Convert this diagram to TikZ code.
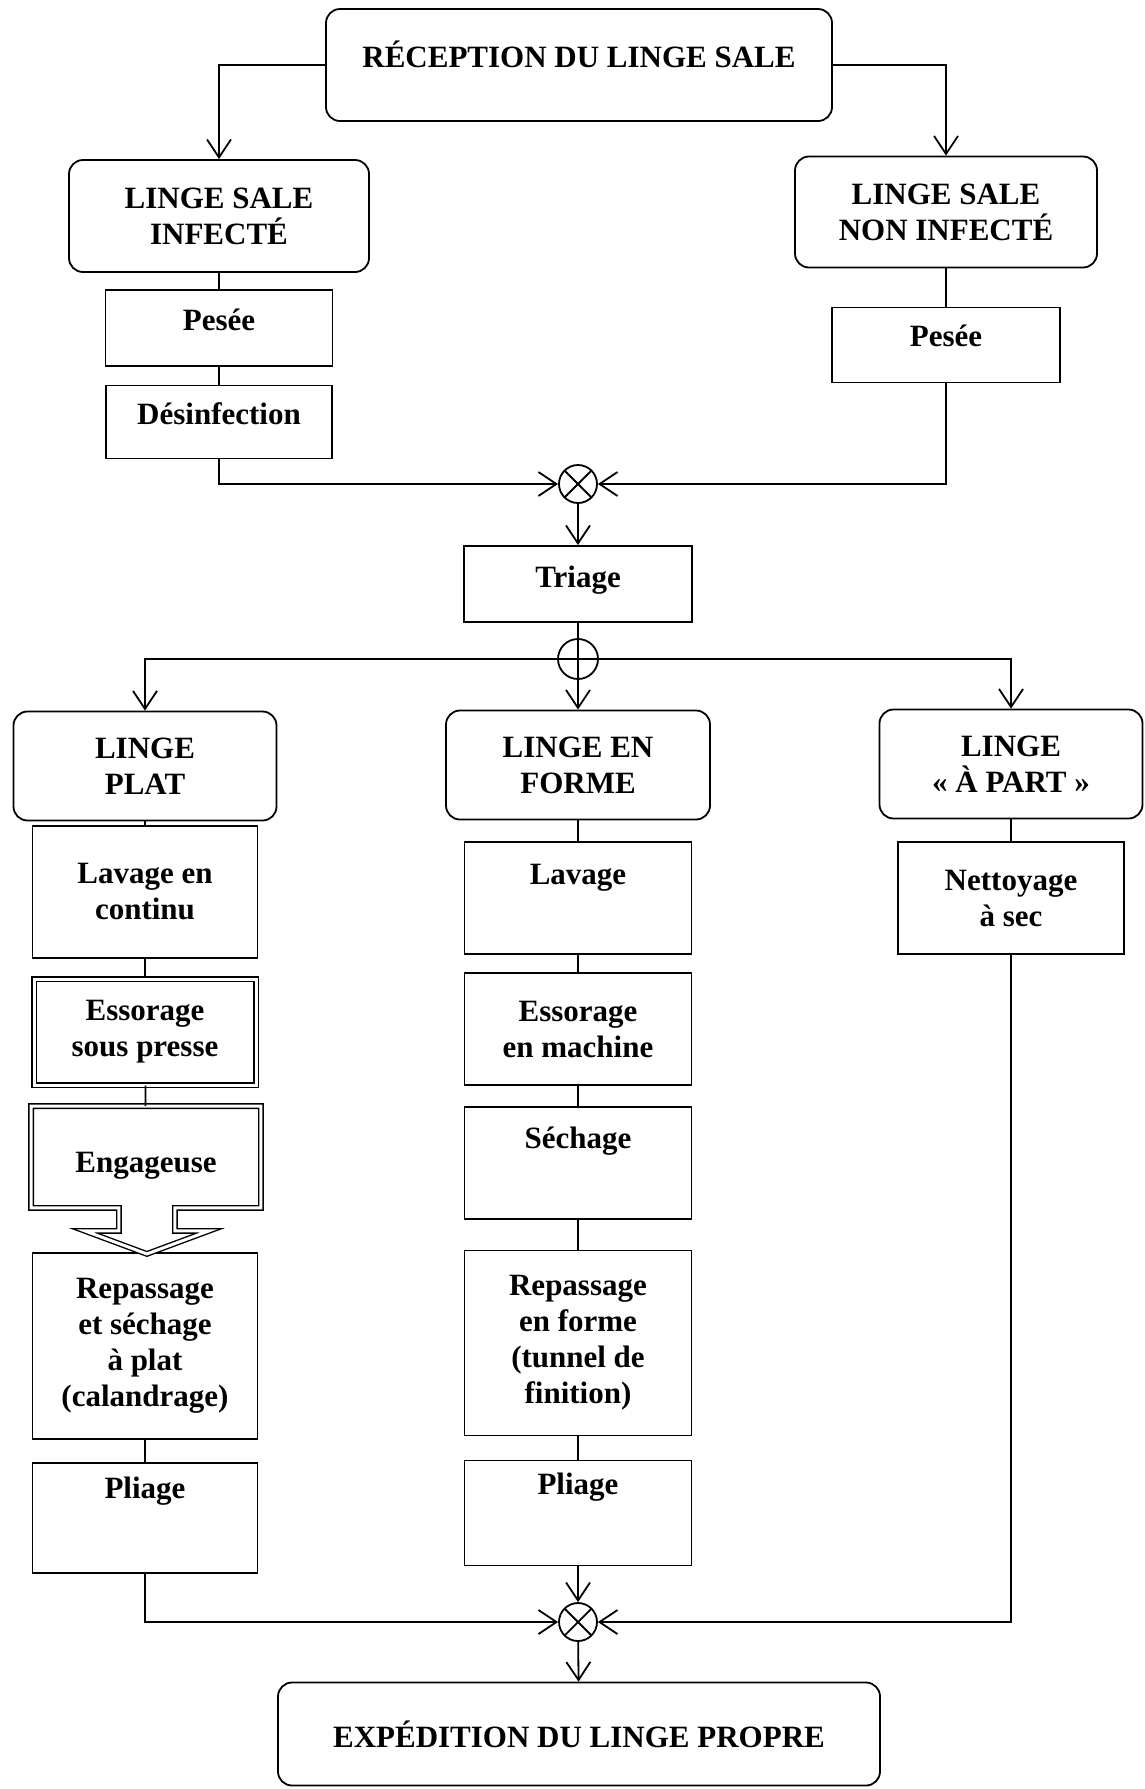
\documentclass[tikz,border=0pt]{standalone}
\usepackage{fontspec}
\setmainfont{Liberation Serif}
\usetikzlibrary{arrows.meta}

\begin{document}
\begin{tikzpicture}[x=1pt,y=-1pt,line width=1.8pt,
  >={Straight Barb[length=18pt,width=24pt]},
  every node/.style={font=\fontsize{31}{36}\selectfont\bfseries},
  box/.style={draw,rectangle,align=center,inner sep=4pt},
  rbox/.style={box,rounded corners=14pt},
  dblline/.style={double,double distance=3pt,line width=1.4pt,line join=miter},
  dblbox/.style={box,dblline},
  toptext/.style={text height=20pt,text depth=#1},
  mergenode/.style={circle,draw,minimum size=38pt,inner sep=0pt,
    path picture={\draw (path picture bounding box.north west) -- (path picture bounding box.south east)
      (path picture bounding box.north east) -- (path picture bounding box.south west);}},
  sumnode/.style={circle,draw,minimum size=40pt,inner sep=0pt,
    path picture={\draw (path picture bounding box.north) -- (path picture bounding box.south)
      (path picture bounding box.west) -- (path picture bounding box.east);}},
  elbowhv/.style={to path={-| (\tikztotarget)}},
  elbowvh/.style={to path={|- (\tikztotarget)}}]
  \useasboundingbox (0,0) rectangle (1144,1789);

  \node[rbox,minimum width=506pt,minimum height=112pt,toptext=16pt] (rec) at (579,65) {RÉCEPTION DU LINGE SALE};
  \node[rbox,minimum width=300pt,minimum height=112pt] (lsi) at (219,216) {LINGE SALE\\INFECTÉ};
  \node[rbox,minimum width=302pt,minimum height=111pt] (lsni) at (946,212) {LINGE SALE\\NON INFECTÉ};
  \node[box,minimum width=227pt,minimum height=76pt,toptext=16pt] (peseeL) at (219,328) {Pesée};
  \node[box,minimum width=226pt,minimum height=73pt,toptext=15pt] (desinf) at (219,422) {Désinfection};
  \node[box,minimum width=228pt,minimum height=75pt,toptext=17pt] (peseeR) at (946,345) {Pesée};
  \node[mergenode] (m1) at (578,484) {};
  \node[box,minimum width=228pt,minimum height=76pt,toptext=14pt] (triage) at (578,584) {Triage};
  \node[sumnode] (s1) at (578,659) {};

  \node[rbox,minimum width=263pt,minimum height=109pt] (plat) at (145,766) {LINGE\\PLAT};
  \node[rbox,minimum width=264pt,minimum height=109pt] (forme) at (578,765) {LINGE EN\\FORME};
  \node[rbox,minimum width=263pt,minimum height=109pt] (apart) at (1011,764) {LINGE\\« À PART »};

  \node[box,minimum width=225pt,minimum height=132pt] (lavC) at (145,892) {Lavage en\\continu};
  \node[dblbox,minimum width=222pt,minimum height=106pt] (essP) at (145,1032) {Essorage\\sous presse};
  \node[minimum width=228pt,minimum height=110pt,toptext=0pt] (eng) at (146,1162) {Engageuse};
  \node[box,minimum width=225pt,minimum height=186pt] (repP) at (145,1346) {Repassage\\et séchage\\à plat\\(calandrage)};
  \node[box,minimum width=225pt,minimum height=110pt,toptext=60pt] (pliP) at (145,1518) {Pliage};

  \node[box,minimum width=227pt,minimum height=112pt,toptext=48pt] (lavF) at (578,898) {Lavage};
  \node[box,minimum width=227pt,minimum height=112pt] (essM) at (578,1029) {Essorage\\en machine};
  \node[box,minimum width=227pt,minimum height=112pt,toptext=50pt] (sech) at (578,1163) {Séchage};
  \node[box,minimum width=227pt,minimum height=185pt] (repF) at (578,1343) {Repassage\\en forme\\(tunnel de\\finition)};
  \node[box,minimum width=227pt,minimum height=105pt,toptext=57pt] (pliF) at (578,1513) {Pliage};

  \node[box,minimum width=226pt,minimum height=112pt] (net) at (1011,898) {Nettoyage\\à sec};
  \node[mergenode] (m2) at (578,1622) {};
  \node[rbox,minimum width=602pt,minimum height=103pt] (exp) at (579,1734) {EXPÉDITION DU LINGE PROPRE};

  \draw[dblline] (eng.north west) -- (eng.north east) -- ([yshift=10pt]eng.south east) -- ++(-86,0) -- ++(0,23)
    -- ++(34,0) -- ++(-62,23) -- ++(-62,-23) -- ++(34,0) -- ++(0,-23) -- ([yshift=10pt]eng.south west) -- cycle;

  \path[->]
    (rec) edge[elbowhv] (lsi)
          edge[elbowhv] (lsni)
    (lsi) edge[-] (peseeL)
    (peseeL) edge[-] (desinf)
    (lsni) edge[-] (peseeR)
    (desinf) edge[elbowvh] (m1)
    (peseeR) edge[elbowvh] (m1)
    (m1) edge (triage)
    (triage) edge[-] (s1)
    (s1) edge[elbowhv] (plat)
         edge (forme)
         edge[elbowhv] (apart)
    (plat) edge[-] (lavC)
    (lavC) edge[-] (essP)
    (essP) edge[-] (eng)
    (repP) edge[-] (pliP)
    (forme) edge[-] (lavF)
    (lavF) edge[-] (essM)
    (essM) edge[-] (sech)
    (sech) edge[-] (repF)
    (repF) edge[-] (pliF)
    (apart) edge[-] (net)
    (pliP) edge[elbowvh] (m2)
    (pliF) edge (m2)
    (net) edge[elbowvh] (m2)
    (m2) edge (exp);
\end{tikzpicture}
\end{document}
